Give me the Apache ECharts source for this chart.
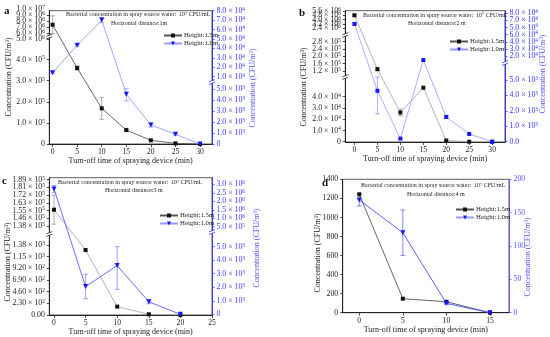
<!DOCTYPE html>
<html><head><meta charset="utf-8">
<script src="https://cdn.jsdelivr.net/npm/echarts@6/dist/echarts.min.js"></script>
<style>html,body{margin:0;padding:0;background:#fff}#c{width:550px;height:337px}</style>
</head><body><div id="c"></div>
<script>
// ================= DATA =================
const timeA = [0, 5, 10, 15, 20, 25, 30];
const aH15 = [7.4e6, 3.6e5, 1.69e5, 6.6e4, 1.75e4, 3e3, 0];
const aH15Err = [1.5e6, 1e4, 5.2e4, 4e3, 2e3, 0, 0];
const aH10 = [1.42e4, 4.33e4, 7.0e4, 4.52e3, 1.73e3, 0.88e3, 0];
const aH10Err = [1e3, 1e3, 2.7e3, 6e2, 2e2, 1e2, 0];

const timeB = [0, 5, 10, 15, 20, 25, 30];
const bH15 = [4.8e6, 1.3e5, 2.6e4, 4.8e4, 1e3, 0, 0];
const bH15Err = [2e5, 8e3, 3e3, 0, 0, 0, 0];
const bH10 = [6.5e4, 4.3e3, 2e2, 1.75e4, 1.6e3, 5e2, 0];
const bH10Err = [1.5e3, 2.5e3, 0, 0, 1e2, 0, 0];

const timeC = [0, 5, 10, 15, 20];
const cH15 = [1.56e5, 1281, 164, 15, 0];
const cH15Err = [1.6e4, 0, 0, 0, 0];
const cH10 = [2.73e6, 2.05e3, 3.6e3, 0.93e3, 0];
const cH10Err = [2e5, 0.9e3, 1.75e3, 0.15e3, 0];

const timeD = [0, 5, 10, 15];
const dH15 = [1243, 147, 115, 0];
const dH15Err = [0, 0, 0, 0];
const dH10 = [169, 120, 14, 0];
const dH10Err = [9, 34, 2, 0];

// tick values / labels (bottom to top)
const xTicksA = [0, 5, 10, 15, 20, 25, 30];
const xTicksB = [0, 5, 10, 15, 20, 25, 30];
const xTicksC = [0, 5, 10, 15, 20, 25];
const xTicksD = [0, 5, 10, 15];

const aLeftTicks = [0, 1e5, 2e5, 3e5, 4e5, 5e6, 6e6, 7e6, 8e6, 9e6, 1e7];
const aLeftLabels = ['0', '1.0×10^5', '2.0×10^5', '3.0×10^5', '4.0×10^5', '5.0×10^6', '6.0×10^6', '7.0×10^6', '8.0×10^6', '9.0×10^6', '1.0×10^7'];
const aRightTicks = [0, 1e3, 2e3, 3e3, 4e3, 5e3, 1e4, 2e4, 3e4, 4e4, 5e4, 6e4, 7e4, 8e4];
const aRightLabels = ['0', '1.0×10^3', '2.0×10^3', '3.0×10^3', '4.0×10^3', '5.0×10^3', '1.0×10^4', '2.0×10^4', '3.0×10^4', '4.0×10^4', '5.0×10^4', '6.0×10^4', '7.0×10^4', '8.0×10^4'];

const bLeftTicks = [0, 1e4, 2e4, 3e4, 4e4, 5e4, 1.2e5, 1.6e5, 2.0e5, 2.4e5, 2.8e5, 2.4e6, 3.2e6, 4.0e6, 4.8e6, 5.6e6];
const bLeftLabels = ['0', '1.0×10^4', '2.0×10^4', '3.0×10^4', '4.0×10^4', '', '1.2×10^5', '1.6×10^5', '2.0×10^5', '2.4×10^5', '2.8×10^5', '2.4×10^6', '3.2×10^6', '4.0×10^6', '4.8×10^6', '5.6×10^6'];
const bRightTicks = [0, 1e3, 2e3, 4e3, 5e3, 2e4, 3e4, 4e4, 5e4, 6e4, 7e4, 8e4];
const bRightLabels = ['0.0', '1.0×10^3', '2.0×10^3', '4.0×10^3', '5.0×10^3', '2.0×10^4', '3.0×10^4', '4.0×10^4', '6.0×10^4', '5.0×10^4', '7.0×10^4', '8.0×10^4'];

const cLeftTicks = [0, 230, 460, 690, 920, 1150, 1380, 1.38e5, 1.465e5, 1.55e5, 1.635e5, 1.72e5, 1.805e5, 1.89e5];
const cLeftLabels = ['0.00', '2.30×10^2', '4.60×10^2', '6.90×10^2', '9.20×10^2', '1.15×10^3', '1.38×10^3', '1.38×10^5', '1.46×10^5', '1.55×10^5', '1.63×10^5', '1.72×10^5', '1.81×10^5', '1.89×10^5'];
const cRightTicks = [0, 1e3, 2e3, 3e3, 4e3, 5e3, 5e5, 1e6, 1.5e6, 2e6, 2.5e6, 3e6, 3.5e6];
const cRightLabels = ['0', '1.0×10^3', '2.0×10^3', '3.0×10^3', '4.0×10^3', '5.0×10^3', '5.0×10^5', '1.0×10^6', '1.5×10^6', '2.0×10^6', '2.5×10^6', '3.0×10^6', '3.5×10^6'];

const dLeftTicks = [0, 200, 400, 600, 800, 1000, 1200, 1400];
const dLeftLabels = ['0', '200', '400', '600', '800', '1000', '1200', '1400'];
const dRightTicks = [0, 50, 100, 150, 200];
const dRightLabels = ['0', '50', '100', '150', '200'];

// ================= LAYOUT (pixel positions in the picture) =================
const FONT = 'Liberation Serif';
const lay = {
  a: {left: 49.3, top: 10.7, right: 212, bottom: 144, xmin: -0.67, xmax: 32.44,
      leftY: [144, 122.9, 101.8, 80.7, 59.6, 39, 33.1, 27.1, 21.2, 15.2, 9.3],
      rightY: [144, 133, 122, 111, 100, 89, 76.7, 67.3, 57.9, 48.4, 39, 29.6, 20.1, 10.7],
      leftBreaks: [36.5], rightBreaks: [82], leftName: [9, 77], rightName: [253, 88]},
  b: {left: 345.3, top: 10.7, right: 505, bottom: 142, xmin: -2.0, xmax: 32.8,
      leftY: [141.7, 130.45, 119.2, 107.95, 96.7, 85.45, 71, 63.7, 56.3, 49, 41.7, 28.3, 24, 19.7, 15.3, 11],
      rightY: [141.7, 126.2, 110.8, 95.4, 80, 56, 48.9, 41.8, 34.6, 27.5, 20.4, 13.3],
      leftBreaks: [35, 77], rightBreaks: [63], leftName: [304, 87], rightName: [543, 74]},
  c: {left: 49.3, top: 177.7, right: 212, bottom: 315, xmin: -0.74, xmax: 25,
      leftY: [315, 303.3, 291.7, 280, 268.3, 256.7, 245, 226, 218.3, 210.6, 202.9, 195.1, 187.4, 179.7],
      rightY: [314.3, 300.8, 287.3, 273.7, 260.2, 246.7, 226.7, 218.2, 209.8, 201.3, 192.9, 184.4, 176],
      leftBreaks: [234], rightBreaks: [232], leftName: [8, 262], rightName: [257, 248]},
  d: {left: 342.7, top: 179.3, right: 509, bottom: 312.7, xmin: -1.9, xmax: 17.18,
      leftY: [312.7, 293.65, 274.6, 255.55, 236.5, 217.45, 198.4, 179.3],
      rightY: [312.7, 279.35, 246, 212.65, 179.3],
      leftBreaks: [], rightBreaks: [], leftName: [318, 253], rightName: [528, 257]}
};

// piecewise-linear axis scale built from the axis ticks (handles broken axes)
function makeScale(ticks, ys, top, bottom) {
  const f = ys.map(y => (bottom - y) / (bottom - top));
  function map(v) {
    let i = 0;
    while (i < ticks.length - 2 && v > ticks[i + 1]) i++;
    const t = (v - ticks[i]) / (ticks[i + 1] - ticks[i]);
    return f[i] + t * (f[i + 1] - f[i]);
  }
  return {map, fracs: f};
}

function rich(s) {
  const i = s.indexOf('^');
  if (i < 0) return '{m|' + s + '}';
  return '{m|' + s.slice(0, i).replace('×', ' × ') + '}{s|' + s.slice(i + 1) + '}';
}
function richStyles(color) {
  return {
    m: {fontSize: 7.8, fontFamily: FONT, fill: color},
    s: {fontSize: 5.2, fontFamily: FONT, fill: color, verticalAlign: 'top'}
  };
}

const grids = [], xAxes = [], yAxes = [], series = [], legends = [], graphics = [], tickLabelSets = [];

function yAxisCfg(gi, pos, fr, color) {
  return {
    type: 'value', gridIndex: gi, position: pos, min: 0, max: 1,
    axisLine: {show: true, onZero: false, lineStyle: {color: color, width: 1}},
    axisTick: {show: true, customValues: fr, length: 2.5, lineStyle: {color: color, width: 0.8}},
    axisLabel: {show: false},
    splitLine: {show: false}
  };
}

function errSeries(xs, vals, errs, sc, xi, yi, color) {
  const data = [];
  xs.forEach((x, i) => { if (errs[i] > 0) data.push([x, sc.map(vals[i] - errs[i]), sc.map(vals[i] + errs[i])]); });
  return {
    type: 'custom', xAxisIndex: xi, yAxisIndex: yi, silent: true, z: 1, data: data,
    renderItem: function (params, api) {
      const lo = api.coord([api.value(0), api.value(1)]);
      const hi = api.coord([api.value(0), api.value(2)]);
      const w = 2.5, st = {stroke: color, lineWidth: 0.8};
      return {type: 'group', children: [
        {type: 'line', shape: {x1: lo[0], y1: lo[1], x2: hi[0], y2: hi[1]}, style: st},
        {type: 'line', shape: {x1: lo[0] - w, y1: lo[1], x2: lo[0] + w, y2: lo[1]}, style: st},
        {type: 'line', shape: {x1: hi[0] - w, y1: hi[1], x2: hi[0] + w, y2: hi[1]}, style: st}
      ]};
    }
  };
}

function breakMark(x, y, color) {
  graphics.push({type: 'rect', shape: {x: x - 3, y: y - 1.2, width: 6, height: 2.4}, style: {fill: '#fff'}, z: 100});
  graphics.push({type: 'line', shape: {x1: x - 3, y1: y - 0.2, x2: x + 3, y2: y - 2.4}, style: {stroke: color, lineWidth: 0.8}, z: 101});
  graphics.push({type: 'line', shape: {x1: x - 3, y1: y + 2.4, x2: x + 3, y2: y + 0.2}, style: {stroke: color, lineWidth: 0.8}, z: 101});
}

function text(x, y, str, size, color, extra, rot) {
  graphics.push({type: 'text', x: x, y: y, z: 50, rotation: rot || 0,
    style: Object.assign({text: str, fontSize: size, fontFamily: FONT, fill: color, verticalAlign: 'middle'}, extra || {})});
}

function addPanel(p) {
  const g = p.lay, gi = grids.length;
  grids.push({left: g.left, top: g.top, width: g.right - g.left, height: g.bottom - g.top,
    show: true, borderColor: '#333', borderWidth: 0.8, backgroundColor: 'transparent', outerBoundsMode: 'none', containLabel: false});
  xAxes.push({
    type: 'value', gridIndex: gi, min: g.xmin, max: g.xmax,
    axisLine: {onZero: false, lineStyle: {color: '#222', width: 1}},
    axisTick: {customValues: p.xTicks, length: 3, lineStyle: {color: '#222', width: 0.8}},
    axisLabel: {customValues: p.xTicks, fontSize: 7.6, fontFamily: FONT, color: '#222', margin: 4, hideOverlap: false},
    splitLine: {show: false},
    name: 'Turn-off time of spraying device (min)', nameLocation: 'middle', nameGap: 13,
    nameTextStyle: {fontSize: 8, fontFamily: FONT, color: '#222'}
  });
  const ls = makeScale(p.leftTicks, g.leftY, g.top, g.bottom);
  const rs = makeScale(p.rightTicks, g.rightY, g.top, g.bottom);
  const pick = (sc, labels, lim) => {
    const fr = [], lb = [];
    sc.fracs.forEach((f, i) => { if (labels[i] !== '' && f <= lim) { fr.push(f); lb.push(labels[i]); } });
    return {fr, lb};
  };
  const L = pick(ls, p.leftLabels, 1.0001), R = pick(rs, p.rightLabels, 1.0001);
  const Lall = pick(ls, p.leftLabels, 2);
  const yl = yAxes.length;
  yAxes.push(yAxisCfg(gi, 'left', L.fr, '#222'));
  yAxes.push(yAxisCfg(gi, 'right', R.fr, p.rightColor));
  tickLabelSets.push({xi: gi, yi: yl, x: g.xmin, fr: Lall.fr, lb: Lall.lb, side: 'left', color: '#222'});
  tickLabelSets.push({xi: gi, yi: yl + 1, x: g.xmax, fr: R.fr, lb: R.lb, side: 'right', color: p.rightColor});
  series.push(errSeries(p.x, p.h15, p.h15e, ls, gi, yl, '#999'));
  series.push(errSeries(p.x, p.h10, p.h10e, rs, gi, yl + 1, p.errBlue));
  series.push({type: 'line', name: 'Height:1.5m', xAxisIndex: gi, yAxisIndex: yl, z: 3,
    data: p.x.map((x, i) => [x, ls.map(p.h15[i])]),
    symbol: 'rect', symbolSize: 4, itemStyle: {color: '#111'},
    lineStyle: {color: p.blackLine, width: 0.9}, emphasis: {disabled: true}});
  series.push({type: 'line', name: 'Height:1.0m', xAxisIndex: gi, yAxisIndex: yl + 1, z: 4,
    data: p.x.map((x, i) => [x, rs.map(p.h10[i])]),
    symbol: p.blueSymbol, symbolSize: p.blueSymbol === 'rect' ? 4 : 5, symbolRotate: p.blueSymbol === 'rect' ? 0 : 180,
    itemStyle: {color: '#1515ff'},
    lineStyle: {color: p.blueLine, width: 0.9}, emphasis: {disabled: true}});
  legends.push({left: p.legend[0], top: p.legend[1], orient: 'vertical', itemWidth: 18, itemHeight: 5, itemGap: 1,
    data: ['Height:1.5m', 'Height:1.0m'], selectedMode: false,
    textStyle: {fontSize: 6.8, fontFamily: FONT, color: '#222', padding: [0, 0, 0, -3]}});
  g.leftBreaks.forEach(y => breakMark(g.left, y, '#222'));
  g.rightBreaks.forEach(y => breakMark(g.right, y, p.rightColor));
  text(g.leftName[0], g.leftName[1], 'Concentration (CFU/m³)', 8, '#222', {align: 'center'}, Math.PI / 2);
  text(g.rightName[0], g.rightName[1], 'Concentration (CFU/m³)', 8, p.nameColor, {align: 'center'}, Math.PI / 2);
  text(p.note[0], p.note[1], '{t|Bacterial concentration in spray source water:  10}{s|7}{t| CFU/mL}', 6.0, '#222',
    {rich: {t: {fontSize: 6.0, fontFamily: FONT, fill: '#222'}, s: {fontSize: 4.2, fontFamily: FONT, fill: '#222', verticalAlign: 'top'}}});
  text(p.note2[0], p.note2[1], p.distance, 6.0, '#222');
  text(p.letter[0], p.letter[1], p.letterText, 11, '#111', {fontWeight: 'bold'});
}

addPanel({lay: lay.a, x: timeA, xTicks: xTicksA, h15: aH15, h15e: aH15Err, h10: aH10, h10e: aH10Err,
  leftTicks: aLeftTicks, leftLabels: aLeftLabels, rightTicks: aRightTicks, rightLabels: aRightLabels,
  rightColor: '#3333ff', nameColor: '#5555ff', blackLine: '#555', blueLine: '#9a9aff', errBlue: '#9a9aff', blueSymbol: 'triangle',
  legend: [158, 27], note: [66, 14.5], note2: [111, 23], distance: 'Horizontal distance:1m',
  letter: [4, 11], letterText: 'a'});
addPanel({lay: lay.b, x: timeB, xTicks: xTicksB, h15: bH15, h15e: bH15Err, h10: bH10, h10e: bH10Err,
  leftTicks: bLeftTicks, leftLabels: bLeftLabels, rightTicks: bRightTicks, rightLabels: bRightLabels,
  rightColor: '#3333ff', nameColor: '#5555ff', blackLine: '#aaa', blueLine: '#a5a5ff', errBlue: '#9a9aff', blueSymbol: 'rect',
  legend: [444, 33], note: [363, 15], note2: [408, 23], distance: 'Horizontal distance:2 m',
  letter: [299, 13], letterText: 'b'});
addPanel({lay: lay.c, x: timeC, xTicks: xTicksC, h15: cH15, h15e: cH15Err, h10: cH10, h10e: cH10Err,
  leftTicks: cLeftTicks, leftLabels: cLeftLabels, rightTicks: cRightTicks, rightLabels: cRightLabels,
  rightColor: '#3b3bff', nameColor: '#5555ff', blackLine: '#aaa', blueLine: '#5a5aff', errBlue: '#8a8aff', blueSymbol: 'triangle',
  legend: [154, 207], note: [58, 182.5], note2: [105, 190.5], distance: 'Horizontal distance:3 m',
  letter: [2, 181], letterText: 'c'});
addPanel({lay: lay.d, x: timeD, xTicks: xTicksD, h15: dH15, h15e: dH15Err, h10: dH10, h10e: dH10Err,
  leftTicks: dLeftTicks, leftLabels: dLeftLabels, rightTicks: dRightTicks, rightLabels: dRightLabels,
  rightColor: '#5a5aff', nameColor: '#5a5aff', blackLine: '#555', blueLine: '#4d4dff', errBlue: '#6a6aff', blueSymbol: 'triangle',
  legend: [450, 201], note: [361, 185.5], note2: [407, 194], distance: 'Horizontal distance:4 m',
  letter: [322, 183], letterText: 'd'});

const chart = echarts.init(document.getElementById('c'), null, {renderer: 'canvas'});
chart.setOption({
  animation: false,
  backgroundColor: '#fff',
  grid: grids, xAxis: xAxes, yAxis: yAxes, series: series, legend: legends, graphic: graphics
});

// y tick labels: positioned through each axis scale (convertToPixel), drawn as text
const labelGraphics = [];
tickLabelSets.forEach(set => {
  set.fr.forEach((f, i) => {
    const pt = chart.convertToPixel({xAxisIndex: set.xi, yAxisIndex: set.yi}, [set.x, f]);
    if (!pt) return;
    labelGraphics.push({type: 'text', z: 60,
      x: set.side === 'left' ? pt[0] - 4.5 : pt[0] + 4.5, y: pt[1],
      style: {text: rich(set.lb[i]), rich: richStyles(set.color), fill: set.color, fontSize: 7.8, fontFamily: FONT,
        align: set.side === 'left' ? 'right' : 'left', verticalAlign: 'middle'}});
  });
});
chart.setOption({graphic: graphics.concat(labelGraphics)});
</script>
</body></html>
